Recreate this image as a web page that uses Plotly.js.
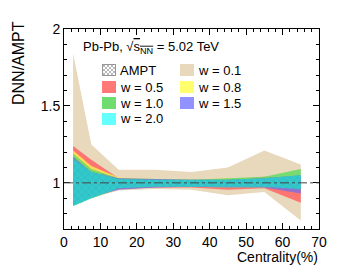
<!DOCTYPE html>
<html>
<head>
<meta charset="utf-8">
<script src="https://cdn.plot.ly/plotly-3.0.1.min.js"></script>
<style>html,body{margin:0;padding:0;background:#fff;}#chart{width:355px;height:270px;}</style>
</head>
<body>
<div id="chart"></div>
<script>
// Centrality bin centres (%)
const centrality = [2.5, 7.5, 15, 25, 35, 45, 55, 65];

// DNN/AMPT bands (lower / upper edges) per weight
const w01_lo = [0.86, 0.90, 0.95, 0.96, 0.955, 0.92, 0.94, 0.755];
const w01_hi = [1.84, 1.25, 1.085, 1.085, 1.07, 1.10, 1.21, 1.12];
const w05_lo = [0.87, 0.92, 0.96, 0.97, 0.97, 0.955, 0.965, 0.87];
const w05_hi = [1.24, 1.15, 1.03, 1.02, 1.02, 1.02, 1.04, 1.03];
const w08_lo = [0.86, 0.92, 0.965, 0.975, 0.975, 0.97, 0.97, 0.96];
const w08_hi = [1.21, 1.11, 1.035, 1.025, 1.02, 1.03, 1.03, 1.04];
const w10_lo = [0.85, 0.90, 0.96, 0.975, 0.975, 0.97, 0.97, 0.95];
const w10_hi = [1.19, 1.09, 1.03, 1.025, 1.02, 1.03, 1.04, 1.09];
const w15_lo = [0.86, 0.91, 0.955, 0.97, 0.975, 0.97, 0.97, 0.93];
const w15_hi = [1.17, 1.07, 1.03, 1.025, 1.02, 1.02, 1.03, 1.05];
const w20_lo = [0.85, 0.90, 0.965, 0.975, 0.975, 0.975, 0.975, 0.96];
const w20_hi = [1.16, 1.07, 1.025, 1.02, 1.02, 1.02, 1.03, 1.05];
const ampt_lo = [0.84, 0.90, 0.965, 0.975, 0.975, 0.975, 0.975, 0.96];
const ampt_hi = [1.17, 1.08, 1.03, 1.02, 1.02, 1.02, 1.03, 1.04];

const legendLabels = ["AMPT", "w = 0.1", "w = 0.5", "w = 0.8", "w = 1.0", "w = 1.5", "w = 2.0"];
const xTickVals = [0, 10, 20, 30, 40, 50, 60, 70];
const yTickVals = [1, 1.5, 2];

const bands = [
  {lo: w01_lo, hi: w01_hi, color: "rgba(232,216,188,1)"},
  {lo: w05_lo, hi: w05_hi, color: "rgba(255,100,100,0.85)"},
  {lo: w08_lo, hi: w08_hi, color: "rgba(255,235,80,0.85)"},
  {lo: w10_lo, hi: w10_hi, color: "rgba(100,220,100,0.85)"},
  {lo: w15_lo, hi: w15_hi, color: "rgba(130,110,220,0.85)"},
  {lo: w20_lo, hi: w20_hi, color: "rgba(45,205,205,0.95)"}
];

const traces = [];
bands.forEach(b => {
  traces.push({x: centrality, y: b.lo, mode: "lines", line: {width: 0}, showlegend: false, hoverinfo: "skip"});
  traces.push({x: centrality, y: b.hi, mode: "lines", line: {width: 0}, fill: "tonexty", fillcolor: b.color, showlegend: false, hoverinfo: "skip"});
});
traces.push({x: centrality, y: ampt_lo, mode: "lines", line: {width: 0}, showlegend: false, hoverinfo: "skip"});
traces.push({x: centrality, y: ampt_hi, mode: "lines", line: {width: 0}, fill: "tonexty", fillcolor: "rgba(0,0,0,0)",
  fillpattern: {shape: "x", fgcolor: "rgba(40,110,120,0.35)", bgcolor: "rgba(0,0,0,0)", size: 5, solidity: 0.15},
  showlegend: false, hoverinfo: "skip"});

// legend (manual, two columns)
const L = 64, T = 29, W = 255, H = 200;
const px = v => (v - L) / W;
const py = v => (T + H - v) / H;
const swatchColors = [null, "rgb(232,216,188)", "rgb(255,120,120)", "rgb(255,255,110)", "rgb(110,220,110)", "rgb(145,145,255)", "rgb(100,255,255)"];
const shapes = [{type: "line", xref: "paper", yref: "y", x0: 0, x1: 1, y0: 1, y1: 1, line: {color: "#444", width: 1, dash: "dashdot"}}];
const annotations = [];
const images = [];
const colX = [102, 180];
const rowY = [70, 87, 103, 119];
legendLabels.forEach((lab, i) => {
  const c = i % 2, r = Math.floor(i / 2);
  const x0 = colX[c], yc = rowY[r];
  if (i === 0) {
    const svg = "<svg xmlns='http://www.w3.org/2000/svg' width='14' height='12'><defs><pattern id='p' width='4' height='4' patternUnits='userSpaceOnUse'><path d='M0,0L4,4M4,0L0,4' stroke='#888' stroke-width='0.6'/></pattern></defs><rect x='0.5' y='0.5' width='13' height='11' fill='white' stroke='#999' stroke-width='1'/><rect x='0.5' y='0.5' width='13' height='11' fill='url(#p)'/></svg>";
    images.push({source: "data:image/svg+xml;utf8," + encodeURIComponent(svg), xref: "paper", yref: "paper",
      x: px(x0), y: py(yc - 6), sizex: 14 / W, sizey: 12 / H, sizing: "stretch", xanchor: "left", yanchor: "top", layer: "above"});
  } else {
    shapes.push({type: "rect", xref: "paper", yref: "paper", x0: px(x0), x1: px(x0 + 14), y0: py(yc + 6), y1: py(yc - 6),
      fillcolor: swatchColors[i], line: {width: 0}});
  }
  annotations.push({text: lab, xref: "paper", yref: "paper", x: px(x0 + 16), y: py(yc), xanchor: "left", yanchor: "middle",
    showarrow: false, font: {size: 13, color: "#000"}});
});
annotations.push({text: "Pb-Pb, √<span style='text-decoration:overline'>s<sub>NN</sub></span> = 5.02 TeV", xref: "paper", yref: "paper",
  x: px(81), y: py(48), xanchor: "left", yanchor: "middle", showarrow: false, font: {size: 13, color: "#000"}});
annotations.push({text: "DNN/AMPT", xref: "paper", yref: "paper", x: px(18), y: py(63), xanchor: "center", yanchor: "middle",
  textangle: -90, showarrow: false, font: {size: 16, color: "#000"}});
annotations.push({text: "Centrality(%)", xref: "paper", yref: "paper", x: px(320), y: py(257), xanchor: "right", yanchor: "middle",
  showarrow: false, font: {size: 14, color: "#000"}});

const layout = {
  width: 355, height: 270,
  margin: {l: L, r: 355 - L - W, t: T, b: 270 - T - H},
  paper_bgcolor: "#fff", plot_bgcolor: "#fff",
  font: {family: "Liberation Sans, Arial, sans-serif", color: "#000", size: 14},
  showlegend: false,
  xaxis: {range: [0, 70], tickvals: xTickVals, ticks: "inside", ticklen: 6, tickcolor: "#000", showline: true, linecolor: "#000", linewidth: 1,
    mirror: "ticks", showgrid: false, zeroline: false, tickfont: {size: 14},
    minor: {dtick: 2, ticks: "inside", ticklen: 3, tickcolor: "#000", showgrid: false}},
  yaxis: {range: [0.7, 2.0], tickvals: yTickVals, ticktext: ["1", "1.5", "2"], ticks: "inside", ticklen: 6, tickcolor: "#000", showline: true, linecolor: "#000", linewidth: 1,
    mirror: "ticks", showgrid: false, zeroline: false, tickfont: {size: 14},
    minor: {dtick: 0.1, ticks: "inside", ticklen: 3, tickcolor: "#000", showgrid: false}},
  shapes: shapes, annotations: annotations, images: images
};
Plotly.newPlot("chart", traces, layout, {staticPlot: true, displayModeBar: false});
</script>
</body>
</html>
